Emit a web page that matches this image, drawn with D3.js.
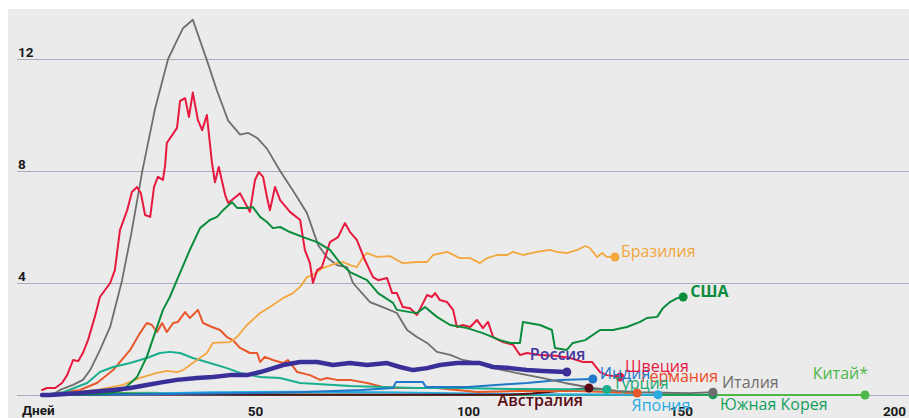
<!DOCTYPE html>
<html>
<head>
<meta charset="utf-8">
<script src="https://cdn.jsdelivr.net/npm/d3@7"></script>
<style>
  body { margin: 0; background: #fff; }
  svg { display: block; font-family: Roboto, "Noto Sans", sans-serif; }
</style>
</head>
<body>
<div id="chart"></div>
<script>
// days since start, daily value
const italy = [[0,0],[3,0.05],[4.2,0.18],[7.3,0.36],[9.6,0.54],[11.3,0.89],[13.6,1.6],[16,2.43],[17.8,3.5],[18.8,4.1],
  [21,5.8],[23.5,7.96],[26.5,10.2],[29.6,12.0],[31.5,12.6],[33.1,13.1],[35.4,13.4],[38.7,11.96],[41,10.9],[43.7,9.8],
  [46.5,9.3],[48.4,9.36],[50.5,9.18],[52.8,8.8],[55.9,8.0],[58.9,7.3],[62.2,6.5],[64.8,5.36],[67,4.9],[69.2,4.64],
  [71.6,4.57],[73,4.0],[77,3.32],[80,3.14],[83.3,2.93],[85.7,2.32],[88,2.07],[90.4,1.86],[92.7,1.54],[95.8,1.43],
  [98.8,1.25],[101.2,1.18],[105.9,0.96],[111,0.8],[117.6,0.6],[123,0.42],[129.3,0.25],[135,0.15],[140.4,0.1],
  [146,0.08],[152,0.07],[157.5,0.1]];

const sweden = [[0,0.18],[1.2,0.25],[3.1,0.25],[4.7,0.43],[5.9,0.71],[7.3,1.25],[8.5,1.21],[9.6,1.5],[10.8,1.96],
  [12.4,2.79],[13.6,3.5],[16,4.0],[17.1,4.46],[18.3,5.89],[20,6.6],[21.1,7.25],[22.3,7.43],[23.2,7.21],[24.2,6.43],
  [25.4,6.36],[26.3,7.43],[27.2,7.79],[28.4,7.68],[28.9,8.2],[29.3,9.0],[31.7,9.54],[32.4,10.5],[33.6,10.6],
  [34.5,9.93],[35.4,10.8],[36.6,9.82],[37.6,9.46],[38.7,10.0],[39.9,8.29],[40.6,7.6],[41.5,8.14],[43,7.14],
  [43.7,6.86],[46.5,7.2],[48.8,6.54],[50,7.68],[50.9,7.96],[51.9,7.79],[52.8,7.07],[53.5,6.6],[54.7,7.43],
  [55.9,6.96],[58.2,6.54],[60.6,6.25],[61.7,5.18],[62.9,4.71],[63.6,4.0],[64.6,4.46],[65.7,4.57],[67.6,5.46],
  [69.5,5.64],[71.1,6.14],[72.3,5.82],[73.9,5.54],[75.8,4.82],[77.7,4.21],[78.9,4.1],[81,4.18],[82.2,3.64],
  [83.3,3.64],[84.7,3.14],[86.4,3.1],[88,2.86],[89.2,3.21],[90.4,3.57],[91.5,3.5],[92.3,3.64],[93.4,3.39],
  [95.1,3.32],[96.5,3.04],[97.4,2.43],[98.8,2.5],[100.5,2.43],[102.1,2.68],[103.5,2.39],[104.7,2.61],[105.9,2.07],
  [108.2,1.89],[110.6,1.79],[112.2,1.43],[113.8,1.5],[116.9,1.43],[120.5,1.4],[124,1.32],[127,1.18],[129.1,1.18],
  [131,0.82],[132.6,0.71],[135.7,0.64]];

const usa = [[0,0],[10,0.02],[16,0.07],[19,0.18],[22.3,0.64],[24.6,1.36],[26.5,2.21],[28.4,3.04],[30,3.5],
  [32.4,4.36],[34.7,5.18],[37.1,5.96],[39.4,6.25],[41.1,6.36],[42.5,6.6],[44.6,6.89],[45.8,6.68],[48.1,6.68],
  [49.5,6.71],[51.2,6.36],[52.8,6.18],[54.2,5.96],[55.9,6.0],[58.2,5.82],[61.3,5.64],[64.6,5.46],[67.6,5.18],
  [70,4.71],[72.3,4.39],[76.3,4.1],[78.9,3.64],[82.4,3.29],[83.3,3.04],[86.4,2.96],[88,2.93],[89.9,3.14],
  [92.7,2.79],[95.8,2.5],[99.8,2.39],[103.5,2.21],[107.5,1.96],[109.9,1.86],[112.2,1.86],[112.9,2.61],[116.9,2.5],
  [119.7,2.32],[120.4,1.68],[123.2,1.61],[124.6,1.86],[127.5,1.96],[131,2.32],[134,2.32],[137.3,2.43],[140.4,2.61],
  [142,2.75],[144.4,2.79],[145.8,3.11],[147.4,3.32],[149.1,3.46],[150.5,3.5]];

const brazil = [[0,0],[4.9,0.07],[12.9,0.18],[19,0.36],[23,0.61],[27,0.79],[29.3,0.86],[31.7,0.82],[33.1,0.89],
  [35.4,1.14],[38.7,1.5],[40.1,1.86],[44.1,1.89],[45.8,2.07],[48.1,2.5],[51.2,2.93],[53.5,3.14],[56.6,3.46],
  [58.9,3.64],[60.6,3.86],[62.2,4.21],[63.6,4.29],[66,4.54],[69.2,4.71],[70.7,4.75],[72.3,4.64],[73.9,4.57],
  [75.4,4.93],[76.3,5.07],[78.6,4.93],[81.7,4.96],[83.3,4.82],[84.7,4.71],[88,4.75],[90.4,4.75],[91.8,5.0],
  [95.1,5.11],[98.1,4.89],[100.5,4.89],[102.8,4.71],[104.5,4.89],[106.8,5.0],[109.2,5.0],[110.6,5.11],[112.9,5.0],
  [116.2,5.11],[119.2,5.18],[120.9,5.11],[123.2,5.07],[125.6,5.18],[127.5,5.32],[128.6,5.25],[130.3,4.93],
  [131.5,5.07],[132.6,4.93],[134.5,4.93]];

const germany = [[0,0],[4.2,0.07],[8.9,0.18],[12.9,0.43],[16.7,0.89],[20.7,1.61],[23,2.21],[24.6,2.57],[25.8,2.5],
  [27,2.25],[28.2,2.57],[29.3,2.25],[30.8,2.57],[31.9,2.61],[33.6,2.96],[34.7,2.75],[35.9,2.93],[36.6,3.04],
  [37.8,2.57],[39.9,2.43],[41.8,2.32],[43.4,2.07],[44.8,1.96],[46.5,1.68],[48.8,1.5],[50.5,1.5],[51.2,1.18],
  [52.3,1.36],[54.2,1.25],[56.6,1.14],[57.7,1.25],[58.7,1.07],[59.9,0.82],[62.9,0.71],[65.3,0.54],[66.9,0.61],
  [69.2,0.54],[72.3,0.54],[76.3,0.43],[80,0.29],[82.4,0.25],[88,0.25],[92.7,0.25],[97.4,0.18],[102.1,0.11],
  [112,0.14],[126,0.14],[139.7,0.07]];

const turkey = [[0,0],[5,0.1],[10.6,0.43],[13.6,0.82],[16.7,1.0],[20.7,1.14],[24.6,1.32],[27.7,1.5],[30,1.54],
  [32.4,1.5],[35.4,1.32],[39.4,1.14],[43.4,0.96],[46.5,0.79],[51.2,0.64],[55.9,0.61],[60.6,0.43],[64.6,0.39],
  [72.3,0.32],[80,0.29],[88,0.25],[98,0.25],[112,0.21],[132.6,0.2]];

const russia = [[0,0],[1.9,0],[8.9,0.07],[16.7,0.18],[20.7,0.25],[24.6,0.36],[28.4,0.46],[31.7,0.54],[36.4,0.61],
  [40.1,0.64],[44.1,0.71],[48.1,0.71],[51.2,0.82],[52.8,0.89],[56.6,1.07],[60.6,1.18],[64.6,1.18],[68.3,1.07],
  [72.3,1.14],[76.3,1.07],[81,1.14],[84,1.0],[87.1,0.89],[90.4,0.96],[93.4,1.07],[97.4,1.14],[102.8,1.14],
  [105.9,1.0],[109.9,0.96],[113.8,0.89],[117.6,0.86],[123.2,0.82]];

const india = [[0,0],[20,0.02],[40,0.05],[60,0.1],[75,0.18],[82.4,0.25],[83.1,0.46],[89.4,0.46],[90.1,0.29],
  [100,0.29],[113.8,0.43],[121.5,0.54],[129.3,0.57]];

const japan = [[0,0],[20,0.04],[40,0.1],[60,0.12],[80,0.1],[100,0.05],[120,0.02],[144.6,0.01]];
const korea = [[0,0],[10,0.05],[30,0.04],[60,0.01],[157.5,0.01]];
const china = [[0,0],[10,0.06],[25,0.08],[45,0.02],[80,0],[193.2,0]];
const australia = [[0,0],[20,0.02],[60,0.01],[110,0.01],[115,0.05],[122,0.15],[128.4,0.25]];

const xTicks = [50, 100, 150, 200];
const yTicks = [0, 4, 8, 12];

const W = 909, H = 418;
const svg = d3.select('#chart').append('svg').attr('width', W).attr('height', H);

svg.append('rect').attr('x', 8).attr('y', 9).attr('width', W - 8).attr('height', H - 9).attr('fill', '#ebebeb');

const x = d3.scaleLinear().domain([0, 200]).range([42, 894]);
const y = d3.scaleLinear().domain([0, 12]).range([395, 59]);

// gridlines + y labels
const yAxis = svg.append('g')
  .attr('transform', 'translate(17,0)')
  .call(d3.axisRight(y).tickValues(yTicks).tickSize(W - 17));
yAxis.select('.domain').remove();
yAxis.selectAll('line').attr('stroke', '#a9adbf').attr('stroke-width', 1);
yAxis.selectAll('text')
  .attr('x', 1).attr('dy', -3)
  .attr('fill', '#1a1a1a').attr('font-size', 13.5).attr('font-weight', 700)
  .attr('font-family', 'Roboto, sans-serif')
  .text(d => d === 0 ? '' : d);

const xAxis = svg.append('g')
  .attr('transform', 'translate(0,403)')
  .call(d3.axisBottom(x).tickValues(xTicks).tickSize(0));
xAxis.select('.domain').remove();
xAxis.selectAll('text')
  .attr('fill', '#1a1a1a').attr('font-size', 13.5).attr('font-weight', 700)
  .attr('font-family', 'Roboto, sans-serif');

svg.append('text').attr('x', 22).attr('y', 415)
  .attr('fill', '#1a1a1a').attr('font-size', 13.5).attr('font-weight', 700)
  .text('Дней');

const series = [
  {name: 'Китай*', data: china, color: '#4db848', text: '#4db848', w: 2, dx: 3, dy: -22, anchor: 'end'},
  {name: 'Южная Корея', data: korea, color: '#14a05a', text: '#14a05a', w: 2, dx: 7, dy: 10},
  {name: 'Япония', data: japan, color: '#29abe2', text: '#29abe2', w: 2, dx: 3, dy: 11, anchor: 'middle'},
  {name: 'Австралия', data: australia, color: '#5a0c16', text: '#5a0c16', w: 2, dx: -6, dy: 12, anchor: 'end', bold: 600},
  {name: 'Германия', data: germany, color: '#e9582b', text: '#ec4a27', w: 2, dx: 4, dy: -17},
  {name: 'Турция', data: turkey, color: '#19ae8e', text: '#1ea878', w: 2, dx: 6, dy: -6},
  {name: 'Индия', data: india, color: '#1f78c9', text: '#1f78c9', w: 2, dx: 7, dy: -6},
  {name: 'Италия', data: italy, color: '#6e6e6e', text: '#6e6e6e', w: 1.8, dx: 9, dy: -10},
  {name: 'Бразилия', data: brazil, color: '#f3a73e', text: '#f3a73e', w: 1.8, dx: 6, dy: -6},
  {name: 'Швеция', data: sweden, color: '#e8193f', text: '#e8193f', w: 2, dx: 5, dy: -11},
  {name: 'США', data: usa, color: '#0a8c3c', text: '#0a8c3c', w: 2, dx: 7, dy: -6, bold: 700},
  {name: 'Россия', data: russia, color: '#3a2f99', text: '#43389f', w: 4.5, dx: -37, dy: -18, bold: 600}
];

const line = d3.line().x(d => x(d[0])).y(d => y(d[1]));

series.forEach(s => {
  svg.append('path')
    .datum(s.data)
    .attr('fill', 'none')
    .attr('stroke', s.color)
    .attr('stroke-width', s.w)
    .attr('stroke-linejoin', 'round')
    .attr('stroke-linecap', 'round')
    .attr('d', line);
});

series.forEach(s => {
  const last = s.data[s.data.length - 1];
  svg.append('circle')
    .attr('cx', x(last[0])).attr('cy', y(last[1]))
    .attr('r', 4.5).attr('fill', s.color);
});

series.forEach(s => {
  const last = s.data[s.data.length - 1];
  svg.append('text')
    .attr('x', x(last[0]) + s.dx)
    .attr('y', y(last[1]) + s.dy)
    .attr('dy', '0.35em')
    .attr('text-anchor', s.anchor || 'start')
    .attr('fill', s.text)
    .attr('font-family', '"Open Sans", sans-serif')
    .attr('font-size', 16)
    .attr('font-weight', s.bold || 400)
    .text(s.name);
});
</script>
</body>
</html>
